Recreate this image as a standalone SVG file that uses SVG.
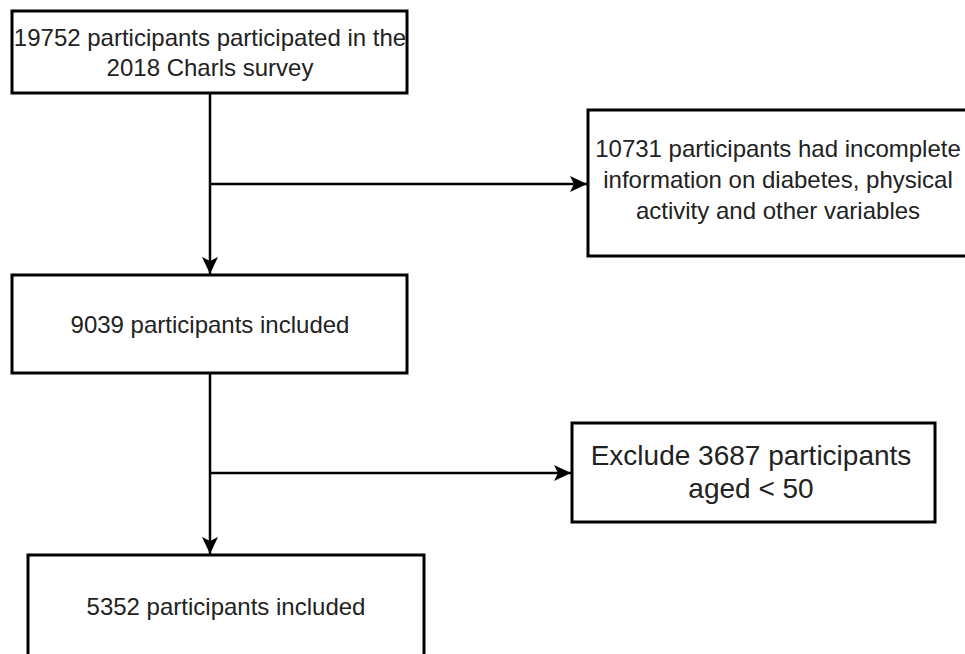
<svg xmlns="http://www.w3.org/2000/svg" width="965" height="654" viewBox="0 0 965 654">
  <style>
    .box { fill: #ffffff; stroke: #000000; stroke-width: 3; }
    .edge { fill: none; stroke: #000000; stroke-width: 2.5; }
    text { font-family: "Liberation Sans", Arial, sans-serif; font-size: 24px; fill: #222222; text-anchor: middle; }
  </style>
  <defs>
    <marker id="arrow" markerUnits="userSpaceOnUse" markerWidth="20" markerHeight="20" viewBox="0 0 20 20" refX="18" refY="10" orient="auto">
      <path d="M1,2 L18,10 L1,18 L5,10 Z" fill="#000000"/>
    </marker>
  </defs>
  <rect width="965" height="654" fill="#ffffff"/>

  <g id="connectors">
    <line class="edge" x1="210" y1="93" x2="210" y2="274" marker-end="url(#arrow)"/>
    <line class="edge" x1="210" y1="184" x2="587" y2="184" marker-end="url(#arrow)"/>
    <line class="edge" x1="210" y1="373" x2="210" y2="554" marker-end="url(#arrow)"/>
    <line class="edge" x1="210" y1="473" x2="571" y2="473" marker-end="url(#arrow)"/>
  </g>

  <g id="node-survey">
    <rect class="box" x="12" y="11" width="395" height="82"/>
    <text x="210" y="46">19752 participants participated in the</text>
    <text x="210" y="76">2018 Charls survey</text>
  </g>

  <g id="node-incomplete">
    <rect class="box" x="588" y="110" width="382" height="146"/>
    <text x="778" y="157">10731 participants had incomplete</text>
    <text x="778" y="188">information on diabetes, physical</text>
    <text x="778" y="219">activity and other variables</text>
  </g>

  <g id="node-included-9039">
    <rect class="box" x="12" y="275" width="395" height="98"/>
    <text x="210" y="333">9039 participants included</text>
  </g>

  <g id="node-exclude-age">
    <rect class="box" x="572" y="423" width="363" height="99"/>
    <text x="751" y="465" style="font-size:28px">Exclude 3687 participants</text>
    <text x="751" y="498" style="font-size:28px">aged &lt; 50</text>
  </g>

  <g id="node-included-5352">
    <rect class="box" x="28" y="555" width="396" height="102"/>
    <text x="226" y="615">5352 participants included</text>
  </g>
</svg>
